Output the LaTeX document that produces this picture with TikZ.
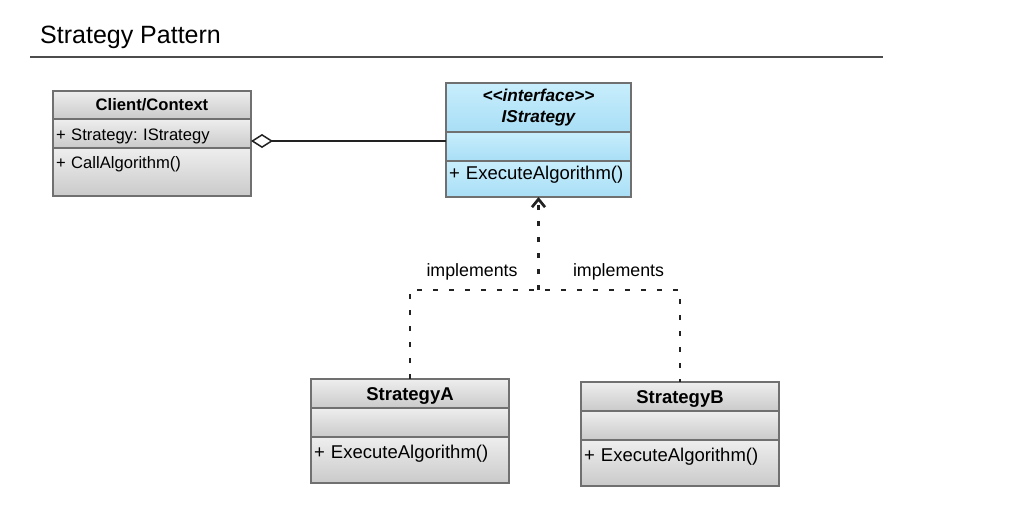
\documentclass[tikz,border=0pt]{standalone}
\usepackage{fontspec}
\setmainfont{Liberation Sans}
\usetikzlibrary{positioning,arrows.meta}
\frenchspacing
\definecolor{boxline}{RGB}{112,112,112}
\definecolor{greytop}{RGB}{238,238,238}
\definecolor{greybot}{RGB}{202,202,202}
\definecolor{bluetop}{RGB}{200,238,252}
\definecolor{bluebot}{RGB}{168,222,246}
\definecolor{inkline}{RGB}{34,34,34}
\newcommand{\clientFont}{\fontsize{16.6}{19}\selectfont}
\newcommand{\memberFont}{\fontsize{18.5}{21}\selectfont}
\newcommand{\ifaceFont}{\fontsize{17.2}{21}\selectfont\bfseries\itshape}

\begin{document}
\begin{tikzpicture}[x=1pt, y=-1pt]
  \tikzset{
    classpart/.style={draw=boxline, line width=2pt, outer sep=0pt,
      inner xsep=3pt, inner ysep=0pt, text width=#1,
      top color=greytop, bottom color=greybot},
    bluepart/.style={classpart=#1, top color=bluetop, bottom color=bluebot},
    rowh/.style 2 args={text height=#1, text depth=#2},
    aggr/.style={draw=inkline, line width=1.5pt,
      {Diamond[open, length=22pt, width=14pt]}-},
    impl/.style={draw=inkline, line width=2.7pt, dash pattern=on 5pt off 11pt},
    lbl/.style={inner sep=0pt, font=\fontsize{17.8}{21}\selectfont}
  }
  \fill[white] (0,0) rectangle (1024,523);
  \useasboundingbox (0,0) rectangle (1024,523);

  % title
  \node[anchor=base west, inner sep=0pt, font=\fontsize{25}{30}\selectfont] (title) at (40,43) {Strategy Pattern};
  \draw[line width=1.8pt, draw=black!70] (30,57) -- (883,57);

  % Client/Context
  \node[classpart=192, rowh={19.5pt}{8.5pt}, font=\clientFont\bfseries, align=center, anchor=north west] (client-head) at (53,91) {Client/Context};
  \node[classpart=192, rowh={21pt}{8pt}, font=\clientFont, align=left, below=0pt of client-head] (client-attr) {+ Strategy: IStrategy};
  \node[classpart=192, rowh={20pt}{28pt}, font=\clientFont, align=left, below=0pt of client-attr] (client-meth) {+ CallAlgorithm()};

  % IStrategy
  \node[bluepart=179, minimum height=49pt, font=\ifaceFont, align=center, anchor=north west] (istr-head) at (446,83) {<{}<interface>{}>\\IStrategy};
  \node[bluepart=179, rowh={20pt}{9pt}, below=0pt of istr-head] (istr-attr) {};
  \node[bluepart=179, rowh={18pt}{18pt}, font=\memberFont, align=left, below=0pt of istr-attr] (istr-meth) {+ ExecuteAlgorithm()};

  % StrategyA
  \node[classpart=192, rowh={21pt}{8pt}, font=\memberFont\bfseries, align=center, anchor=north west] (sa-head) at (311,379) {StrategyA};
  \node[classpart=192, rowh={20pt}{9pt}, below=0pt of sa-head] (sa-attr) {};
  \node[classpart=192, rowh={21pt}{25pt}, font=\memberFont, align=left, below=0pt of sa-attr] (sa-meth) {+ ExecuteAlgorithm()};

  % StrategyB
  \node[classpart=192, rowh={21pt}{8pt}, font=\memberFont\bfseries, align=center, anchor=north west] (sb-head) at (581,382) {StrategyB};
  \node[classpart=192, rowh={20pt}{9pt}, below=0pt of sb-head] (sb-attr) {};
  \node[classpart=192, rowh={21pt}{25pt}, font=\memberFont, align=left, below=0pt of sb-attr] (sb-meth) {+ ExecuteAlgorithm()};

  % aggregation
  \coordinate (agg-start) at ([yshift=-7.5pt]client-attr.east);
  \draw[aggr] (agg-start) -- (agg-start -| istr-head.west);

  % realization
  \path (istr-meth.south) ++(0,93) coordinate (fork);
  \draw[impl] (sa-head.north) |- (fork) -| (sb-head.north);
  \draw[impl, -{Straight Barb[length=8pt, width=13pt]}] (fork) -- (istr-meth.south);
  \node[lbl, anchor=base] (impl-a) at (472,276) {implements};
  \node[lbl, anchor=base] (impl-b) at (618.5,276) {implements};
\end{tikzpicture}
\end{document}
